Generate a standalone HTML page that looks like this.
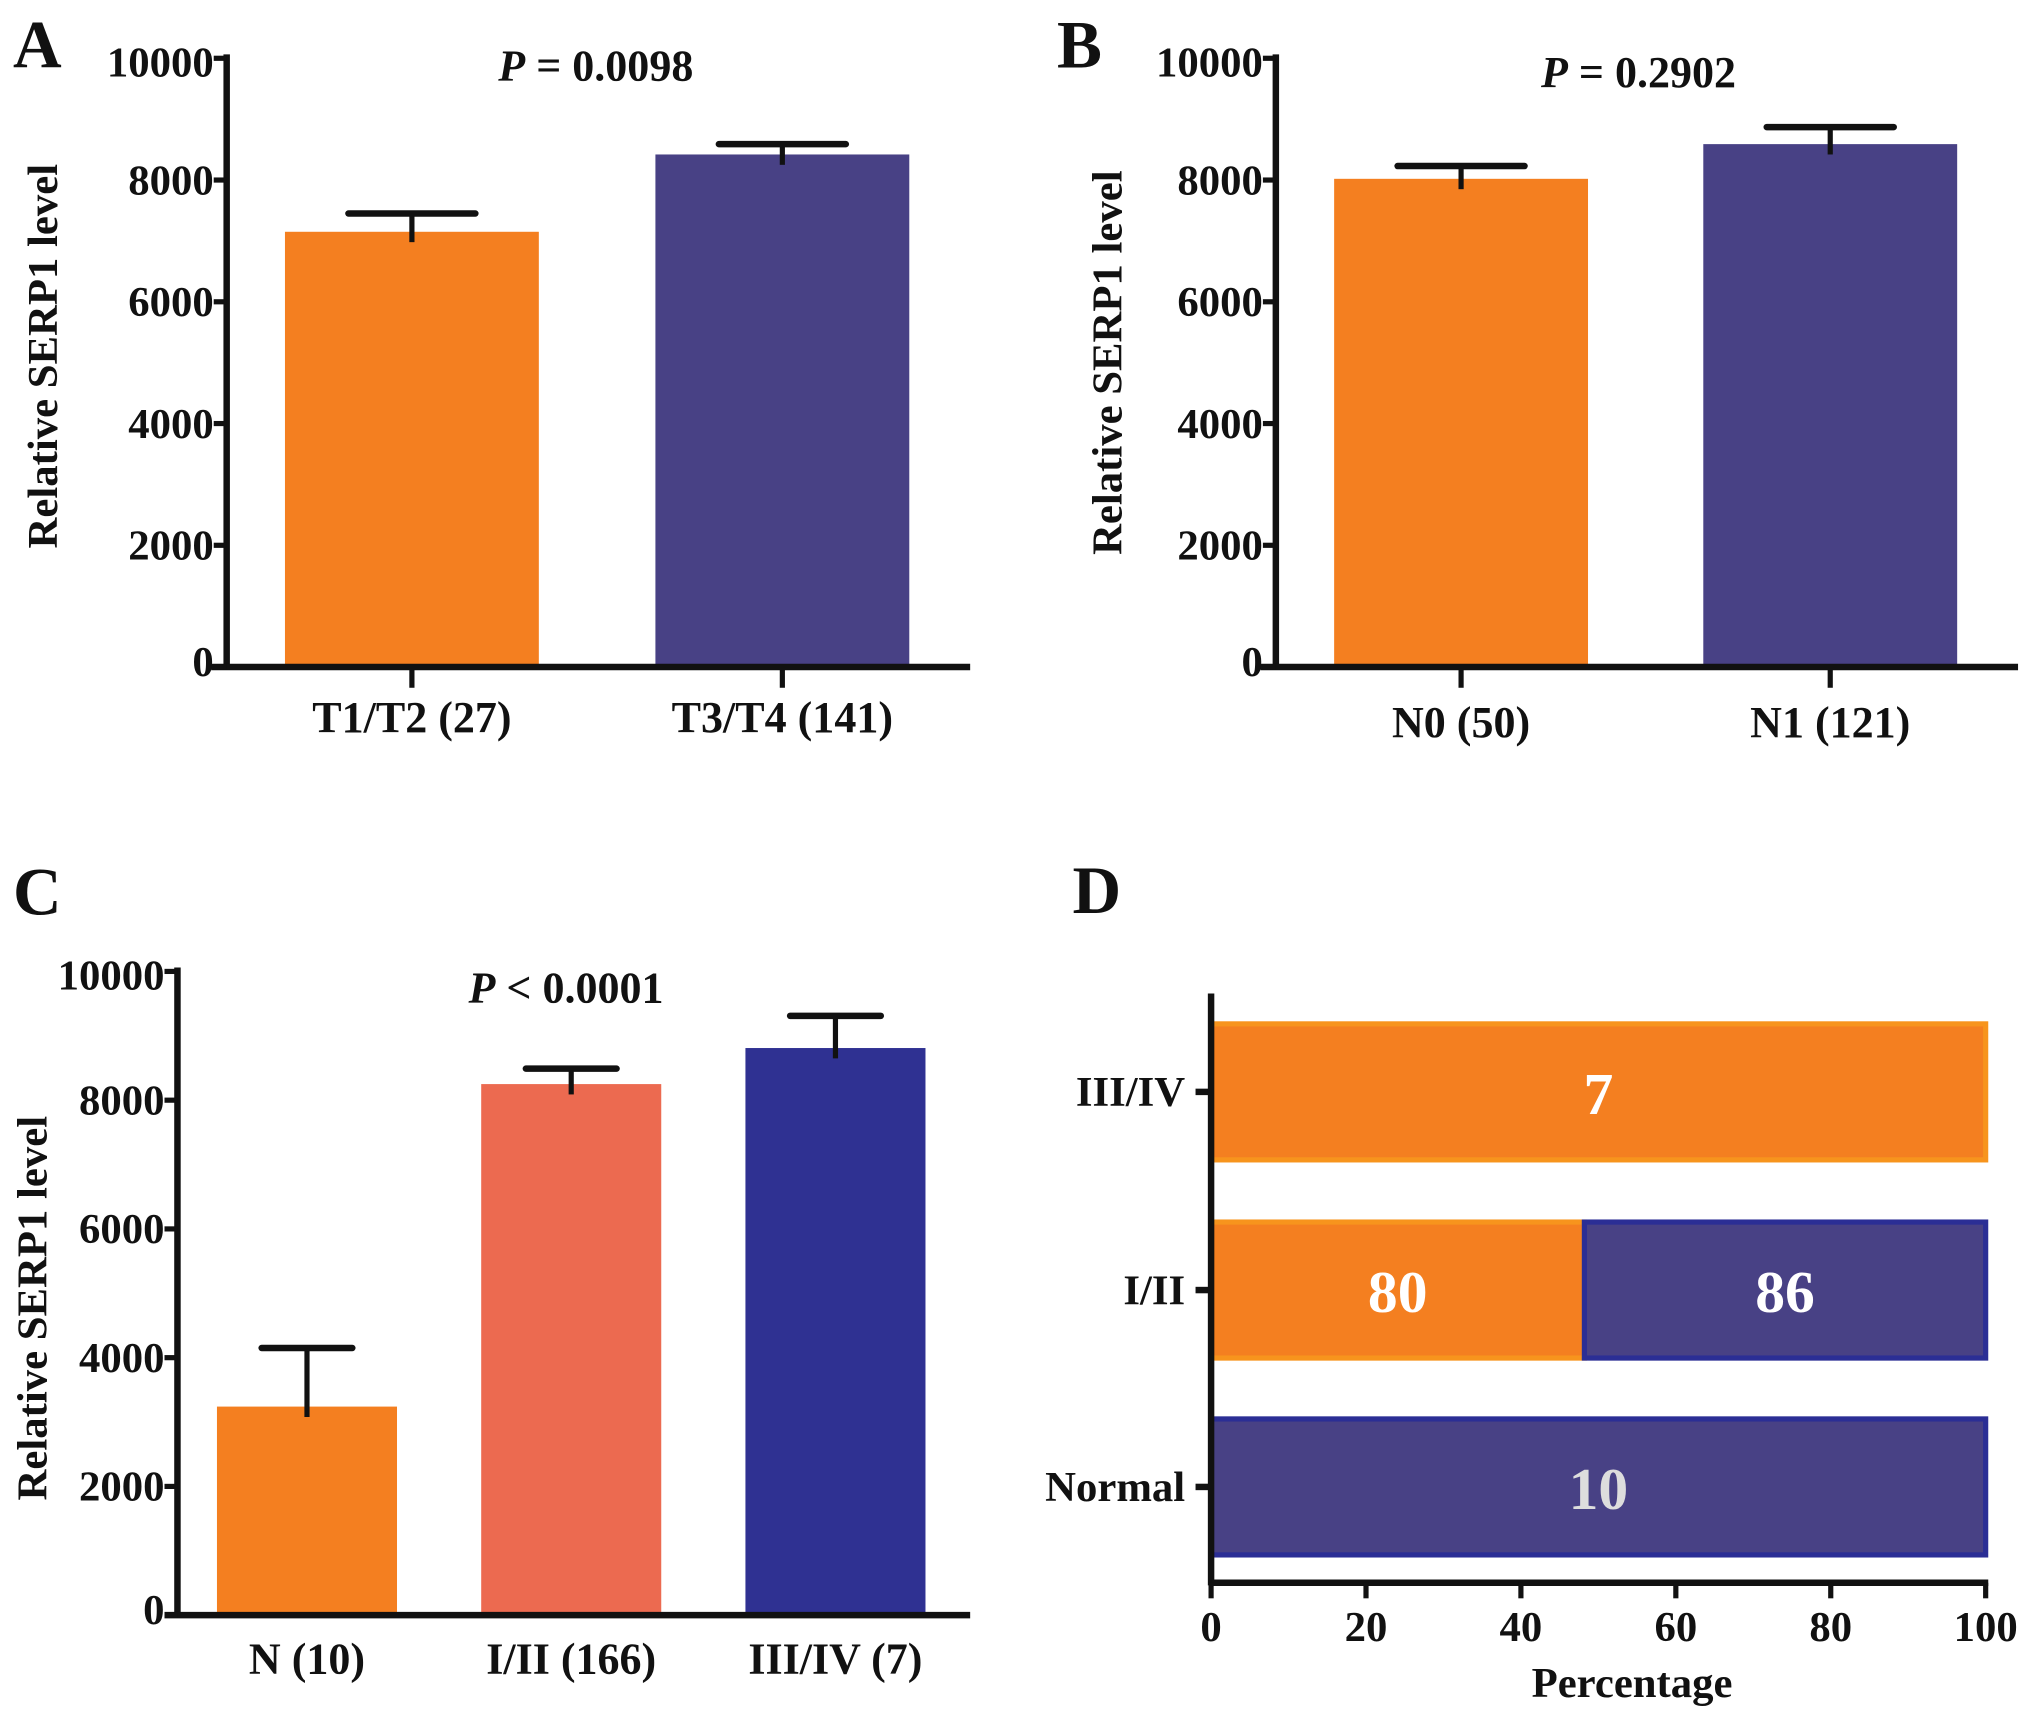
<!DOCTYPE html>
<html><head><meta charset="utf-8"><style>
html,body{margin:0;padding:0;background:#fff;}
svg{display:block;}
text{font-family:"Liberation Serif","Times New Roman",serif;fill:#111;}
.b{font-weight:bold;}
</style></head><body>
<svg id="fig" width="2031" height="1718" viewBox="0 0 1568 1326.4" preserveAspectRatio="none" xmlns="http://www.w3.org/2000/svg"></svg>
<script>
// Panel A data
const aCats = ["T1/T2 (27)", "T3/T4 (141)"];
const aMeans = [7150, 8420];
const aErr = [300, 170];
// Panel B data
const bCats = ["N0 (50)", "N1 (121)"];
const bMeans = [8020, 8590];
const bErr = [210, 280];
// Panel C data
const cCats = ["N (10)", "I/II (166)", "III/IV (7)"];
const cMeans = [3240, 8250, 8810];
const cErr = [910, 240, 500];
// Panel D data
const dCats = ["Normal", "I/II", "III/IV"];
const dLow = [0, 80, 7];
const dHigh = [10, 86, 0];
const yTicks = [0, 2000, 4000, 6000, 8000, 10000];
const xTicksD = [0, 20, 40, 60, 80, 100];

const NS = "http://www.w3.org/2000/svg";
const svg = document.getElementById('fig');
function mk(tag, attrs, parent, name, txt) {
  const e = document.createElementNS(NS, tag);
  for (const k in attrs) e.setAttribute(k, attrs[k]);
  
  
  if (txt !== undefined) e.textContent = txt;
  (parent || svg).appendChild(e);
  return e;
}

function barPanel(o) {
  const g = mk('g', {}, svg, o.id);
  const y = v => o.y0 - (v / 10000) * (o.y0 - o.y1);
  o.means.forEach((m, i) => {
    const cx = o.cx[i];
    mk('rect', {x: cx - o.bw / 2, y: y(m), width: o.bw, height: o.y0 - y(m), fill: o.colors[i]}, g, 'bar-' + o.cats[i]);
    const top = y(m + o.err[i]);
    mk('line', {x1: cx, x2: cx, y1: y(m) + 8, y2: top, stroke: '#111', 'stroke-width': 4}, g, 'error-bar');
    mk('line', {x1: cx - o.cap, x2: cx + o.cap, y1: top, y2: top, stroke: '#111', 'stroke-width': 5, 'stroke-linecap': 'round'}, g, 'error-cap');
    if (o.xticks) mk('line', {x1: cx, x2: cx, y1: o.y0, y2: o.y0 + 16, stroke: '#111', 'stroke-width': 4}, g, 'x-tick');
    mk('text', {x: cx, y: o.labY, 'font-size': 34, 'text-anchor': 'middle', class: 'b'}, g, 'x-label', o.cats[i]);
  });
  mk('line', {x1: o.ax, x2: o.ax, y1: o.y1 - 3, y2: o.y0 + 2, stroke: '#111', 'stroke-width': 5}, g, 'y-axis');
  mk('line', {x1: o.xs, x2: o.xe, y1: o.y0, y2: o.y0, stroke: '#111', 'stroke-width': 5}, g, 'x-axis');
  yTicks.forEach(t => {
    mk('line', {x1: o.ax - 10, x2: o.ax, y1: y(t), y2: y(t), stroke: '#111', 'stroke-width': 4}, g, 'y-tick');
    mk('text', {x: o.ax - 10, y: y(t) + 11 + (t === 10000 ? 3 : 0) - (t === 0 ? 4 : 0), 'font-size': 33, 'text-anchor': 'end', class: 'b'}, g, 'y-tick-label', String(t));
  });
  mk('text', {x: o.ttlx, y: o.ttly, 'font-size': 33, 'text-anchor': 'middle', class: 'b', transform: `rotate(-90 ${o.ttlx} ${o.ttly})`}, g, 'y-axis-title', 'Relative SERP1 level');
  const p = mk('text', {x: o.px, y: o.py, 'font-size': 34, 'text-anchor': 'middle', class: 'b'}, g, 'p-value');
  const ps = document.createElementNS(NS, 'tspan'); ps.setAttribute('font-style', 'italic'); ps.textContent = 'P';
  p.appendChild(ps); p.appendChild(document.createTextNode(o.ptext));
  mk('text', {x: o.lx, y: o.ly, 'font-size': 52, class: 'b'}, g, 'panel-letter', o.letter);
}

const OR = '#f47f20', PU = '#484185';
barPanel({id: 'panel-a', cats: aCats, means: aMeans, err: aErr, colors: [OR, PU], cx: [318, 604], bw: 196, cap: 49,
  y0: 515, y1: 45, ax: 175, xs: 163, xe: 749, xticks: true, labY: 565, ttlx: 44, ttly: 275, px: 460, py: 62, ptext: ' = 0.0098', lx: 10, ly: 52, letter: 'A'});
barPanel({id: 'panel-b', cats: bCats, means: bMeans, err: bErr, colors: [OR, PU], cx: [1128, 1413], bw: 196, cap: 49,
  y0: 515, y1: 45, ax: 985, xs: 973, xe: 1558, xticks: true, labY: 569, ttlx: 866, ttly: 280, px: 1265, py: 67, ptext: ' = 0.2902', lx: 816, ly: 52, letter: 'B'});
barPanel({id: 'panel-c', cats: cCats, means: cMeans, err: cErr, colors: [OR, '#ec6a50', '#2f3192'], cx: [237, 441, 645], bw: 139, cap: 35,
  y0: 1247, y1: 750, ax: 137, xs: 127, xe: 749, xticks: false, labY: 1292, ttlx: 36, ttly: 1010, px: 437, py: 774, ptext: ' < 0.0001', lx: 10, ly: 706, letter: 'C'});

// Panel D
(function () {
  const g = mk('g', {}, svg, 'panel-d');
  const x0 = 935, x1 = 1533, yAxis = 1222;
  const x = p => x0 + (p / 100) * (x1 - x0);
  const cy = [1148, 996, 843];
  const bh = 105;
  dCats.forEach((c, i) => {
    const tot = dLow[i] + dHigh[i];
    const split = tot ? dLow[i] / tot * 100 : 0;
    const top = cy[i] - bh / 2;
    if (dLow[i] > 0) {
      mk('rect', {x: x(0), y: top, width: x(split) - x(0), height: bh, fill: '#f47f20', stroke: '#f7941d', 'stroke-width': 4}, g, 'bar-low-' + c);
      mk('text', {x: (x(0) + x(split)) / 2, y: cy[i] + 17, 'font-size': 46, 'text-anchor': 'middle', class: 'b', style: 'fill:#fff'}, g, 'bar-value', String(dLow[i]));
    }
    if (dHigh[i] > 0) {
      mk('rect', {x: x(split), y: top, width: x(100) - x(split), height: bh, fill: '#484185', stroke: '#2b2e95', 'stroke-width': 4}, g, 'bar-high-' + c);
      mk('text', {x: (x(split) + x(100)) / 2, y: cy[i] + 17, 'font-size': 46, 'text-anchor': 'middle', class: 'b', style: dLow[i] ? 'fill:#fff' : 'fill:#ddd'}, g, 'bar-value', String(dHigh[i]));
    }
    mk('line', {x1: x0 - 12, x2: x0, y1: cy[i], y2: cy[i], stroke: '#111', 'stroke-width': 5}, g, 'y-tick');
    mk('text', {x: x0 - 20, y: cy[i] + 11, 'font-size': 33, 'text-anchor': 'end', class: 'b'}, g, 'y-label', c);
  });
  mk('line', {x1: x0, x2: x0, y1: 767, y2: yAxis + 2, stroke: '#111', 'stroke-width': 5}, g, 'y-axis');
  mk('line', {x1: x0, x2: x1 + 2, y1: yAxis, y2: yAxis, stroke: '#111', 'stroke-width': 5}, g, 'x-axis');
  xTicksD.forEach(t => {
    mk('line', {x1: x(t), x2: x(t), y1: yAxis, y2: yAxis + 12, stroke: '#111', 'stroke-width': 4}, g, 'x-tick');
    mk('text', {x: x(t), y: 1267, 'font-size': 33, 'text-anchor': 'middle', class: 'b'}, g, 'x-tick-label', String(t));
  });
  mk('text', {x: 1260, y: 1310, 'font-size': 33, 'text-anchor': 'middle', class: 'b'}, g, 'x-axis-title', 'Percentage');
  mk('text', {x: 828, y: 705, 'font-size': 52, class: 'b'}, g, 'panel-letter', 'D');
})();
</script>
</body></html>
